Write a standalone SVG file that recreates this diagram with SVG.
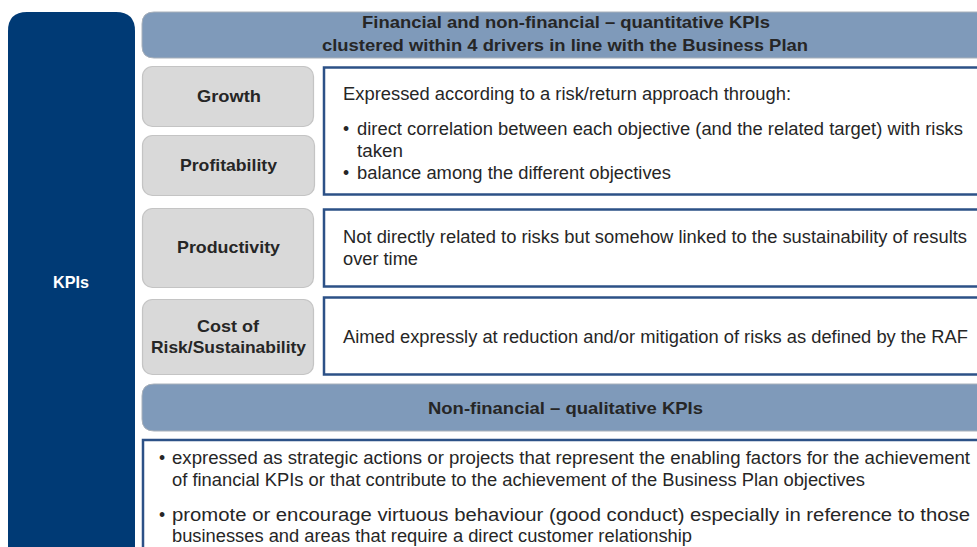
<svg xmlns="http://www.w3.org/2000/svg" width="977" height="547" viewBox="0 0 977 547">
<style>
.hdr{fill:#7f9aba;stroke:#a8b0ba;stroke-width:1}
.drv{fill:#d9d9d9;stroke:#c4c4c4;stroke-width:1.2}
.box{fill:#ffffff;stroke:#2c5187;stroke-width:2.5}
text{font-family:"Liberation Sans",Arial,sans-serif;fill:#262626}
.b{font-weight:bold;font-size:17px}
.t16{font-size:17.5px}
.c{text-anchor:middle}
</style>
<rect width="977" height="547" fill="#ffffff"/>
<g id="kpis">
<path d="M8,548 V31 Q8,12 27,12 H116 Q135,12 135,31 V548 Z" fill="#003a75"/>
<text x="71" y="288" class="b c" style="fill:#ffffff" textLength="36" lengthAdjust="spacingAndGlyphs">KPIs</text>
</g>
<g id="header-quant">
<path d="M154,12 H990 V58 H154 Q142,58 142,46 V24 Q142,12 154,12 Z" class="hdr"/>
<text x="566" y="28" class="b c" textLength="408" lengthAdjust="spacingAndGlyphs">Financial and non-financial – quantitative KPIs</text>
<text x="565" y="51" class="b c" textLength="486" lengthAdjust="spacingAndGlyphs">clustered within 4 drivers in line with the Business Plan</text>
</g>
<g id="growth">
<rect x="142.5" y="66.5" width="171" height="60" rx="10" class="drv"/>
<text x="229" y="102" class="b c" textLength="64" lengthAdjust="spacingAndGlyphs">Growth</text>
</g>
<g id="profitability">
<rect x="142.5" y="135.5" width="172" height="60" rx="10" class="drv"/>
<text x="228.5" y="171" class="b c" textLength="97" lengthAdjust="spacingAndGlyphs">Profitability</text>
</g>
<g id="desc-growth">
<rect x="324" y="67.5" width="670" height="127" class="box"/>
<text x="343" y="100" class="t16" textLength="448" lengthAdjust="spacingAndGlyphs">Expressed according to a risk/return approach through:</text>
<text x="343" y="135" class="t16">•</text>
<text x="357" y="135" class="t16" textLength="606" lengthAdjust="spacingAndGlyphs">direct correlation between each objective (and the related target) with risks</text>
<text x="357" y="157" class="t16" textLength="46" lengthAdjust="spacingAndGlyphs">taken</text>
<text x="343" y="179" class="t16">•</text>
<text x="357" y="179" class="t16" textLength="314" lengthAdjust="spacingAndGlyphs">balance among the different objectives</text>
</g>
<g id="productivity">
<rect x="142.5" y="208.5" width="171" height="79" rx="10" class="drv"/>
<text x="228.5" y="253" class="b c" textLength="103" lengthAdjust="spacingAndGlyphs">Productivity</text>
</g>
<g id="desc-productivity">
<rect x="324" y="209.5" width="670" height="77" class="box"/>
<text x="343" y="243" class="t16" textLength="624" lengthAdjust="spacingAndGlyphs">Not directly related to risks but somehow linked to the sustainability of results</text>
<text x="343" y="265" class="t16" textLength="75" lengthAdjust="spacingAndGlyphs">over time</text>
</g>
<g id="cost-of-risk">
<rect x="142.5" y="299.5" width="171" height="75" rx="10" class="drv"/>
<text x="228" y="332" class="b c" textLength="62" lengthAdjust="spacingAndGlyphs">Cost of</text>
<text x="228.5" y="353" class="b c" textLength="155" lengthAdjust="spacingAndGlyphs">Risk/Sustainability</text>
</g>
<g id="desc-cost">
<rect x="324" y="297.5" width="670" height="77" class="box"/>
<text x="343" y="343" class="t16" textLength="625" lengthAdjust="spacingAndGlyphs">Aimed expressly at reduction and/or mitigation of risks as defined by the RAF</text>
</g>
<g id="header-qual">
<path d="M154,384 H990 V431 H154 Q142,431 142,419 V396 Q142,384 154,384 Z" class="hdr"/>
<text x="565.5" y="414" class="b c" textLength="275" lengthAdjust="spacingAndGlyphs">Non-financial – qualitative KPIs</text>
</g>
<g id="desc-qual">
<rect x="143" y="440" width="851" height="120" class="box"/>
<text x="159" y="464" class="t16">•</text>
<text x="172" y="464" class="t16" textLength="798" lengthAdjust="spacingAndGlyphs">expressed as strategic actions or projects that represent the enabling factors for the achievement</text>
<text x="172" y="486" class="t16" textLength="693" lengthAdjust="spacingAndGlyphs">of financial KPIs  or that contribute to the achievement of the Business Plan objectives</text>
<text x="159" y="521" class="t16">•</text>
<text x="172" y="521" class="t16" textLength="798" lengthAdjust="spacingAndGlyphs">promote or encourage virtuous behaviour (good conduct) especially in reference to those</text>
<text x="172" y="542" class="t16" textLength="520" lengthAdjust="spacingAndGlyphs">businesses and areas that require a direct customer relationship</text>
</g>
<g id="connectors"></g>
</svg>
